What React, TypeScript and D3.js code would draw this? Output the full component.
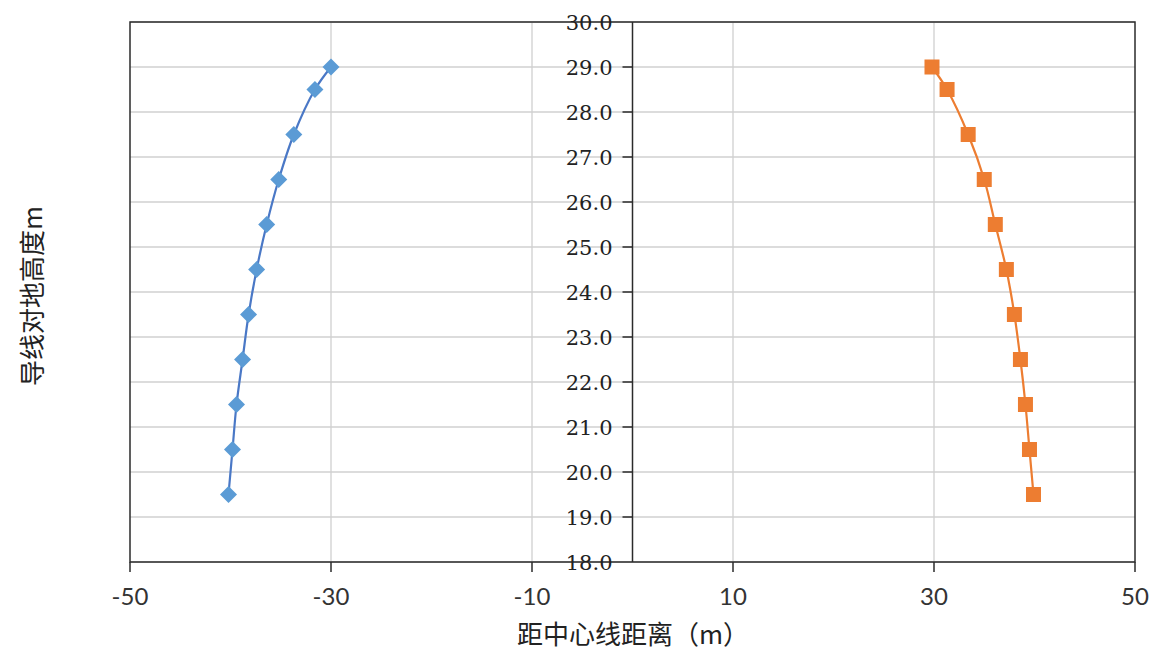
import React from "react";
import * as d3 from "d3";

const heights = [29, 28.5, 27.5, 26.5, 25.5, 24.5, 23.5, 22.5, 21.5, 20.5, 19.5];
const leftDist = [-30.0, -31.6, -33.7, -35.2, -36.4, -37.4, -38.2, -38.8, -39.4, -39.8, -40.2];
const rightDist = [29.8, 31.3, 33.4, 35.0, 36.1, 37.2, 38.0, 38.6, 39.1, 39.5, 39.9];
const xTicks = [-50, -30, -10, 10, 30, 50];
const xGrid = [-30, -10, 10, 30];
const yTicks = [18, 19, 20, 21, 22, 23, 24, 25, 26, 27, 28, 29, 30];

const W = 1151, H = 650;
const m = { left: 130, right: 1135, top: 22, bottom: 562 };

export default function App() {
  const x = d3.scaleLinear().domain([-50, 50]).range([m.left, m.right]);
  const y = d3.scaleLinear().domain([18, 30]).range([m.bottom, m.top]);
  const line = d3.line<[number, number]>().x(d => x(d[0])).y(d => y(d[1])).curve(d3.curveCatmullRom.alpha(0.5));
  const L: [number, number][] = leftDist.map((v, i) => [v, heights[i]]);
  const R: [number, number][] = rightDist.map((v, i) => [v, heights[i]]);
  const serif = "'DejaVu Serif', serif";
  const sans = "Lato, 'Open Sans', sans-serif";
  const cjk = "'Noto Sans CJK SC', sans-serif";
  const x0 = x(0);
  return (
    <svg width={W} height={H} style={{ position: "absolute", left: 0, top: 0, background: "#fff" }}>
      <rect x={0} y={0} width={W} height={H} fill="#fff" />
      {yTicks.map(t => (
        <line key={"hy" + t} x1={m.left} x2={m.right} y1={y(t)} y2={y(t)} stroke="#d0d0d0" strokeWidth={1.3} />
      ))}
      {xGrid.map(t => (
        <line key={"gx" + t} x1={x(t)} x2={x(t)} y1={m.top} y2={m.bottom} stroke="#d0d0d0" strokeWidth={1.3} />
      ))}
      <rect x={m.left} y={m.top} width={m.right - m.left} height={m.bottom - m.top} fill="none" stroke="#2b2b2b" strokeWidth={1.5} />
      <line x1={x0} x2={x0} y1={m.top} y2={m.bottom} stroke="#2b2b2b" strokeWidth={1.5} />
      {yTicks.map(t => (
        <g key={"yt" + t}>
          {t > 18 && t < 30 && <line x1={x0 - 10} x2={x0} y1={y(t)} y2={y(t)} stroke="#2b2b2b" strokeWidth={1.5} />}
          <text x={x0 - 20} y={y(t)} dy="0.36em" textAnchor="end" fontFamily={serif} fontSize={21} fill="#222">{t.toFixed(1)}</text>
        </g>
      ))}
      {xTicks.map(t => (
        <g key={"xt" + t}>
          <line x1={x(t)} x2={x(t)} y1={m.bottom} y2={m.bottom + 10} stroke="#2b2b2b" strokeWidth={1.5} />
          <text x={x(t)} y={605} textAnchor="middle" fontFamily={sans} fontSize={24} fill="#333">{t}</text>
        </g>
      ))}
      <path d={line(L) || ""} fill="none" stroke="#4a78c6" strokeWidth={2.2} />
      <path d={line(R) || ""} fill="none" stroke="#ed7d31" strokeWidth={2.2} />
      {L.map((d, i) => (
        <path key={"l" + i} d={`M0,-8.5L8.5,0L0,8.5L-8.5,0Z`} transform={`translate(${x(d[0])},${y(d[1])})`} fill="#5b9bd5" />
      ))}
      {R.map((d, i) => (
        <rect key={"r" + i} x={x(d[0]) - 7.5} y={y(d[1]) - 7.5} width={15} height={15} fill="#ed7d31" />
      ))}
      <text x={633} y={644} textAnchor="middle" fontFamily={cjk} fontSize={26} fill="#222">距中心线距离（m）</text>
      <text transform={`translate(42,296) rotate(-90)`} textAnchor="middle" fontFamily={cjk} fontSize={26} fill="#222">导线对地高度m</text>
    </svg>
  );
}
